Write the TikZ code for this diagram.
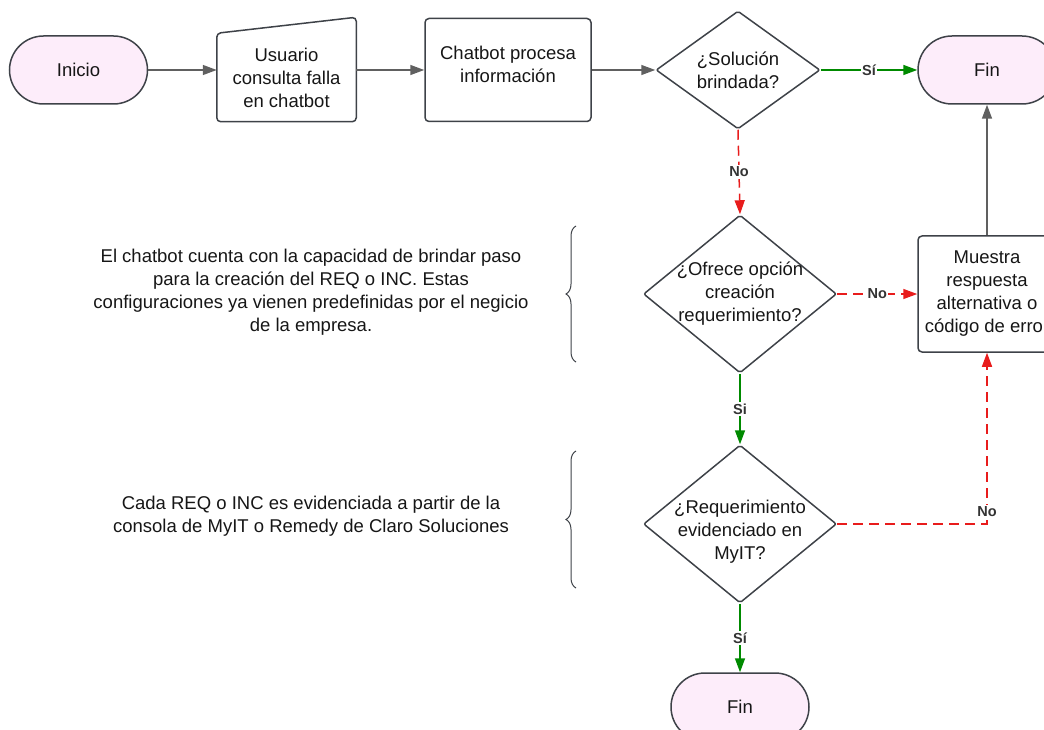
\documentclass[tikz,border=0pt]{standalone}
\usepackage{fontspec}
\setmainfont{Liberation Sans}
\usetikzlibrary{shapes.geometric}
\usetikzlibrary{arrows.meta}
\usetikzlibrary{decorations.pathreplacing}
\definecolor{edgegray}{RGB}{62,66,72}
\definecolor{termfill}{RGB}{253,237,250}
\definecolor{linegray}{RGB}{96,96,96}
\definecolor{yesgreen}{RGB}{0,138,0}
\definecolor{nored}{RGB}{232,28,28}
\definecolor{lblgray}{RGB}{51,51,51}
\definecolor{txtblack}{RGB}{22,22,22}
\tikzset{
	flownode/.style = {
		align=center,
		inner sep=0pt,
		text centered,
		font=\fontsize{18.5}{23}\selectfont,
		text=txtblack,
		draw=edgegray,
		line width=1.5pt
	},
	node_term/.style = {
		flownode,
		rectangle,
		rounded corners=34pt,
		fill=termfill,
		minimum width=138pt,
		minimum height=68pt
	},
	node_proc/.style = {
		flownode,
		rectangle,
		rounded corners=4pt,
		minimum width=166pt,
		minimum height=103pt
	},
	node_input/.style = {
		flownode,
		rectangle,
		draw=none,
		minimum width=138pt,
		minimum height=87pt
	},
	node_dec/.style = {
		flownode,
		diamond,
		aspect=1.2,
		inner xsep=-20pt,
		rounded corners=2pt,
		minimum width=193pt,
		minimum height=158pt
	},
	node_dec_small/.style = {
		node_dec,
		minimum width=164pt,
		minimum height=118pt
	},
	node_note/.style = {
		align=center,
		inner sep=0pt,
		font=\fontsize{18.5}{23}\selectfont,
		text=txtblack
	},
	line_go/.style = {
		->,
		draw=linegray,
		line width=1.5pt
	},
	line_yes/.style = {
		line_go,
		draw=yesgreen
	},
	line_no/.style = {
		line_go,
		draw=nored,
		dash pattern=on 10pt off 6pt
	},
	edge_lbl/.style = {
		font=\bfseries\fontsize{14.5}{16}\selectfont,
		text=lblgray,
		fill=white,
		inner sep=1.5pt
	},
	brace_line/.style = {
		draw=edgegray,
		line width=1pt,
		decorate,
		decoration={brace, amplitude=10pt}
	}
}

\begin{document}
\begin{tikzpicture}[x=1pt, y=-1pt, >={Triangle[length=14pt,width=10pt]}]
\useasboundingbox (0,0) rectangle (1044,730);

% top row
\node [node_term] (inicio) at (78.5,70) {Inicio};
\node [node_input] (usuario) at (286.5,77.5) {Usuario\\consulta falla\\en chatbot};
\draw [draw=edgegray, line width=1.5pt, rounded corners=4pt]
	(usuario.south west) -- (usuario.north west)
	-- ([yshift=16pt]usuario.north east) -- (usuario.south east) -- cycle;
\node [node_proc] (chatbot) at (508,70) {Chatbot procesa\\informaci\'on\rule[-11pt]{0pt}{0pt}};
\node [node_dec_small] (solucion) at (738,70) {¿Soluci\'on\\brindada?};
\node [node_term] (fin_a) at (987,70) {Fin};

% middle and bottom
\node [node_dec] (ofrece) at (740,294) {¿Ofrece opci\'on\\creaci\'on\\requerimiento?};
\node [node_proc, minimum width=138pt, minimum height=116pt] (muestra) at (987,294)
	{Muestra\\respuesta\\alternativa o\\c\'odigo de error};
\node [node_dec] (evidencia) at (740,524) {\rule{0pt}{28pt}¿Requerimiento\\evidenciado en\\MyIT?};
\node [node_term] (fin_b) at (740,707) {Fin};

% notes
\node [node_note] (nota_a) at (311,292) {El chatbot cuenta con la capacidad de brindar paso\\para la creaci\'on del REQ o INC. Estas\\configuraciones ya vienen predefinidas por el negicio\\de la empresa.};
\node [node_note] (nota_b) at (311,516) {Cada REQ o INC es evidenciada a partir de la\\consola de MyIT o Remedy de Claro Soluciones};
\draw [brace_line] (576,362) -- (576,226);
\draw [brace_line] (576,588) -- (576,451);

% connectors
\draw [line_go] (inicio.east) -- (inicio.east -| usuario.west);
\draw [line_go] (usuario.east |- chatbot.west) -- (chatbot.west);
\draw [line_go] (chatbot.east) -- (solucion.west);
\draw [line_yes] (solucion.east) -- node [edge_lbl] {Sí} (fin_a.west);
\draw [line_no] (solucion.south) -- node [edge_lbl] {No} (ofrece.north);
\draw [line_no] (ofrece.east) -- node [edge_lbl] {No} (muestra.west);
\draw [line_go] (muestra.north) -- (fin_a.south);
\draw [line_yes] (ofrece.south) -- node [edge_lbl] {Si} (evidencia.north);
\draw [line_no] (evidencia.east) -| node [edge_lbl, pos=0.535] {No} (muestra.south);
\draw [line_yes] (evidencia.south) -- node [edge_lbl] {Sí} (fin_b.north);
\end{tikzpicture}
\end{document}
